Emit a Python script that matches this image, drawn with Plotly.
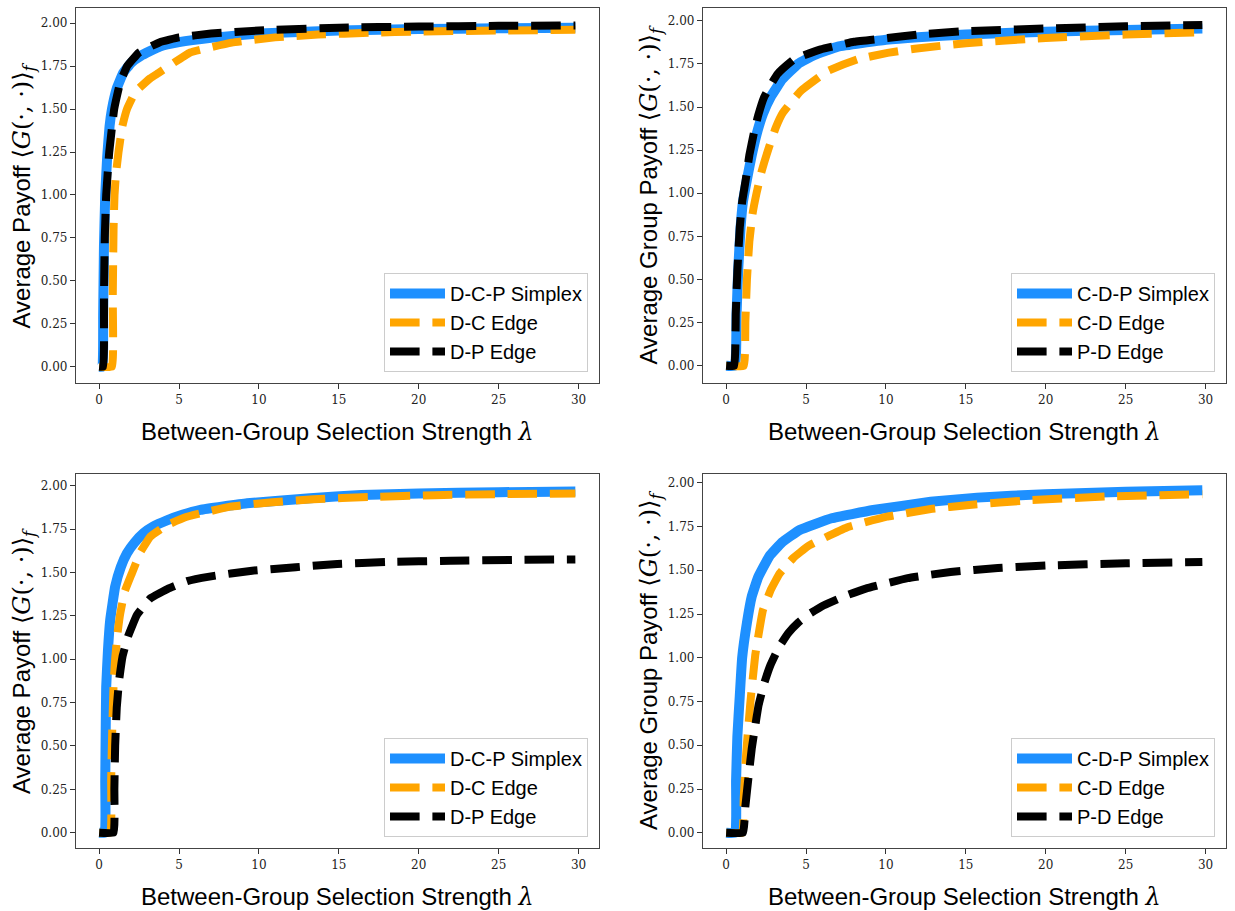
import plotly.graph_objects as go

# ---------------- data ----------------
# Panel 1 (top-left): D-C-P simplex, D-C edge, D-P edge
P1_SIMPLEX_X = [0, 0.2, 0.25, 0.3, 0.38, 0.5, 0.65, 0.8, 1.1, 1.5, 2.0, 2.6, 3.8, 5, 7, 10, 15, 20, 25, 29.8]
P1_SIMPLEX_Y = [0, 0, 0.3, 0.7, 1.0, 1.22, 1.4, 1.5, 1.62, 1.71, 1.77, 1.81, 1.865, 1.89, 1.915, 1.94, 1.958, 1.966, 1.971, 1.974]
P1_EDGE1_X = [0, 0.8, 0.85, 0.9, 0.96, 1.05, 1.21, 1.45, 1.74, 2.26, 3.2, 3.7, 5.7, 8.3, 11, 13.7, 17, 20, 25, 29.8]
P1_EDGE1_Y = [0, 0, 0.4, 0.8, 1.0, 1.12, 1.25, 1.4, 1.5, 1.6, 1.68, 1.71, 1.83, 1.887, 1.918, 1.934, 1.945, 1.952, 1.958, 1.962]
P1_EDGE2_X = [0, 0.25, 0.3, 0.35, 0.44, 0.63, 0.94, 1.3, 1.75, 2.5, 3.8, 5, 7, 10, 15, 20, 25, 29.8]
P1_EDGE2_Y = [0, 0, 0.4, 0.75, 1.0, 1.25, 1.5, 1.65, 1.75, 1.83, 1.89, 1.918, 1.94, 1.958, 1.974, 1.981, 1.985, 1.987]

# Panel 2 (top-right): C-D-P simplex, C-D edge, P-D edge
P2_SIMPLEX_X = [0, 0.55, 0.65, 0.75, 0.9, 1.05, 1.3, 1.6, 1.9, 2.3, 2.8, 3.5, 4.5, 5.5, 7, 10, 12, 15, 20, 25, 29.8]
P2_SIMPLEX_Y = [0, 0, 0.3, 0.55, 0.8, 0.95, 1.08, 1.22, 1.34, 1.46, 1.56, 1.66, 1.75, 1.8, 1.85, 1.89, 1.905, 1.92, 1.937, 1.947, 1.955]
P2_EDGE1_X = [0, 1.1, 1.2, 1.3, 1.45, 1.65, 1.9, 2.2, 2.67, 3.1, 3.55, 4.66, 6.34, 8.22, 10.1, 11.8, 15, 20, 25, 29.8]
P2_EDGE1_Y = [0, 0, 0.25, 0.5, 0.72, 0.88, 1.0, 1.12, 1.264, 1.38, 1.467, 1.592, 1.708, 1.776, 1.814, 1.838, 1.87, 1.9, 1.92, 1.934]
P2_EDGE2_X = [0, 0.5, 0.6, 0.7, 0.85, 1.0, 1.21, 1.45, 1.73, 2.0, 2.36, 2.8, 3.2, 4.24, 5.92, 8, 10.1, 12, 15, 20, 25, 29.8]
P2_EDGE2_Y = [0, 0, 0.3, 0.55, 0.8, 0.95, 1.07, 1.22, 1.347, 1.45, 1.554, 1.63, 1.69, 1.776, 1.834, 1.878, 1.9, 1.92, 1.94, 1.955, 1.968, 1.975]

# Panel 3 (bottom-left): D-C-P simplex, D-C edge, D-P edge
P3_SIMPLEX_X = [0, 0.35, 0.38, 0.41, 0.44, 0.55, 0.69, 1.0, 1.35, 1.74, 2.2, 2.78, 3.4, 4.24, 5.2, 6.33, 9.26, 13.2, 16.4, 20, 25, 29.8]
P3_SIMPLEX_Y = [0, 0, 0.3, 0.6, 0.84, 1.05, 1.226, 1.418, 1.53, 1.61, 1.67, 1.726, 1.765, 1.8, 1.832, 1.86, 1.898, 1.927, 1.946, 1.955, 1.962, 1.966]
P3_EDGE1_X = [0, 0.7, 0.75, 0.82, 0.9, 1.0, 1.15, 1.32, 1.6, 2.05, 2.6, 3.2, 4.2, 5.39, 8.2, 10.83, 13.4, 17, 21, 25, 29.8]
P3_EDGE1_Y = [0, 0, 0.3, 0.6, 0.85, 1.0, 1.15, 1.264, 1.39, 1.495, 1.62, 1.706, 1.77, 1.818, 1.879, 1.904, 1.922, 1.935, 1.945, 1.951, 1.955]
P3_EDGE2_X = [0, 0.9, 0.95, 1.0, 1.1, 1.25, 1.46, 1.8, 2.36, 3.2, 4.35, 5.5, 6.9, 9.57, 12.3, 14.9, 18, 22, 26, 29.8]
P3_EDGE2_Y = [0, 0, 0.25, 0.5, 0.72, 0.88, 1.014, 1.13, 1.255, 1.35, 1.408, 1.45, 1.476, 1.51, 1.53, 1.549, 1.56, 1.567, 1.572, 1.575]

# Panel 4 (bottom-right): C-D-P simplex, C-D edge, P-D edge
P4_SIMPLEX_X = [0, 0.57, 0.62, 0.7, 0.85, 1.0, 1.3, 1.6, 2.0, 2.7, 3.5, 4.6, 6.6, 9.2, 12.8, 15.7, 20, 25, 29.8]
P4_SIMPLEX_Y = [0, 0, 0.3, 0.55, 0.78, 1.0, 1.2, 1.35, 1.46, 1.58, 1.66, 1.73, 1.797, 1.844, 1.891, 1.915, 1.935, 1.948, 1.957]
P4_EDGE1_X = [0, 1.0, 1.1, 1.25, 1.51, 1.82, 2.3, 2.8, 3.35, 4.2, 5.13, 7.55, 10.06, 12.8, 15.2, 19, 24, 29.8]
P4_EDGE1_Y = [0, 0, 0.2, 0.45, 0.74, 1.015, 1.272, 1.39, 1.482, 1.57, 1.638, 1.745, 1.806, 1.85, 1.873, 1.9, 1.922, 1.935]
P4_EDGE2_X = [0, 1.05, 1.2, 1.4, 1.6, 1.8, 2.03, 2.4, 2.77, 3.3, 3.88, 4.5, 5.2, 6.12, 7.5, 8.74, 11.36, 14.04, 17, 20, 25, 29.8]
P4_EDGE2_Y = [0, 0, 0.15, 0.32, 0.48, 0.6, 0.73, 0.86, 0.958, 1.06, 1.14, 1.2, 1.25, 1.3, 1.355, 1.395, 1.455, 1.49, 1.513, 1.527, 1.54, 1.547]

LEFT_NAMES = ["D-C-P Simplex", "D-C Edge", "D-P Edge"]
RIGHT_NAMES = ["C-D-P Simplex", "C-D Edge", "P-D Edge"]
Y_TICKS = [0, 0.25, 0.5, 0.75, 1.0, 1.25, 1.5, 1.75, 2.0]
Y_TICK_TEXT = ["0.00", "0.25", "0.50", "0.75", "1.00", "1.25", "1.50", "1.75", "2.00"]
X_TICKS = [0, 5, 10, 15, 20, 25, 30]

XLABEL = "Between-Group Selection Strength <span style='font-family:DejaVu Serif'><i>λ</i></span>"
MATH = "<span style='font-family:DejaVu Serif'>⟨<i>G</i>(·, ·)⟩<sub><i>f</i></sub></span>"
YLABEL_LEFT = "Average Payoff " + MATH
YLABEL_RIGHT = "Average Group Payoff " + MATH

# ---------------- layout geometry ----------------
W, H = 1235, 911
COLS = [(76, 599), (703, 1226)]
ROWS = [(8, 383), (474, 848)]
X_RANGE = [-1.45, 31.28]
Y_RANGES = [[-0.095, 2.089], [-0.100, 2.074], [-0.088, 2.067], [-0.087, 2.05]]

BLUE = "#1E90FF"
ORANGE = "#FFA500"
BLACK = "#000000"
DASH = "29.6px,12.8px"
SMOOTH = 0.3

panels = [
    (P1_SIMPLEX_X, P1_SIMPLEX_Y, P1_EDGE1_X, P1_EDGE1_Y, P1_EDGE2_X, P1_EDGE2_Y, LEFT_NAMES),
    (P2_SIMPLEX_X, P2_SIMPLEX_Y, P2_EDGE1_X, P2_EDGE1_Y, P2_EDGE2_X, P2_EDGE2_Y, RIGHT_NAMES),
    (P3_SIMPLEX_X, P3_SIMPLEX_Y, P3_EDGE1_X, P3_EDGE1_Y, P3_EDGE2_X, P3_EDGE2_Y, LEFT_NAMES),
    (P4_SIMPLEX_X, P4_SIMPLEX_Y, P4_EDGE1_X, P4_EDGE1_Y, P4_EDGE2_X, P4_EDGE2_Y, RIGHT_NAMES),
]

fig = go.Figure()
layout = dict(
    width=W, height=H,
    margin=dict(l=0, r=0, t=0, b=0),
    paper_bgcolor="white", plot_bgcolor="white",
    font=dict(family="Liberation Sans", color="black"),
    annotations=[],
)

for i, (sx, sy, e1x, e1y, e2x, e2y, names) in enumerate(panels):
    r, c = divmod(i, 2)
    n = "" if i == 0 else str(i + 1)
    xa, ya = "x" + n, "y" + n
    lg = "legend" + n
    x0, x1 = COLS[c]
    y0, y1 = ROWS[r]
    fig.add_trace(go.Scatter(x=sx, y=sy, mode="lines", name=names[0], xaxis=xa, yaxis=ya, legend=lg,
                             line=dict(color=BLUE, width=10, shape="spline", smoothing=SMOOTH)))
    fig.add_trace(go.Scatter(x=e1x, y=e1y, mode="lines", name=names[1], xaxis=xa, yaxis=ya, legend=lg,
                             line=dict(color=ORANGE, width=8, dash=DASH, shape="spline", smoothing=SMOOTH)))
    fig.add_trace(go.Scatter(x=e2x, y=e2y, mode="lines", name=names[2], xaxis=xa, yaxis=ya, legend=lg,
                             line=dict(color=BLACK, width=8, dash=DASH, shape="spline", smoothing=SMOOTH)))
    axis_common = dict(showgrid=False, zeroline=False, showline=True, mirror=True,
                       linecolor="#444444", linewidth=1.3, ticks="outside", ticklen=5,
                       tickwidth=1, tickcolor="#333333",
                       tickfont=dict(family="DejaVu Serif", size=12, color="#222222"))
    layout["xaxis" + n] = dict(domain=[x0 / W, x1 / W], anchor=ya, range=X_RANGE,
                               tickvals=X_TICKS, **axis_common)
    layout["yaxis" + n] = dict(domain=[1 - y1 / H, 1 - y0 / H], anchor=xa, range=Y_RANGES[i],
                               tickvals=Y_TICKS, ticktext=Y_TICK_TEXT, **axis_common)
    layout[lg] = dict(x=(x1 - 11) / W, y=1 - (y1 - 11) / H, xanchor="right", yanchor="bottom",
                      bgcolor="rgba(255,255,255,0.85)", bordercolor="#cccccc", borderwidth=1,
                      itemwidth=55,
                      font=dict(family="Liberation Sans", size=20, color="black"))
    # axis titles
    layout["annotations"].append(dict(text=XLABEL, xref="paper", yref="paper",
                                      x=(x0 + x1) / 2 / W, y=1 - (y1 + 49) / H,
                                      xanchor="center", yanchor="middle", showarrow=False,
                                      font=dict(family="Liberation Sans", size=24, color="black")))
    layout["annotations"].append(dict(text=YLABEL_LEFT if c == 0 else YLABEL_RIGHT,
                                      xref="paper", yref="paper",
                                      x=(x0 - 53) / W, y=1 - (y0 + y1) / 2 / H,
                                      xanchor="center", yanchor="middle", showarrow=False,
                                      textangle=-90,
                                      font=dict(family="Liberation Sans", size=24, color="black")))

fig.update_layout(**layout)
fig.write_html(
    "out.html",
    config={"displayModeBar": False},
    post_script="document.body.style.margin='0px';document.body.style.padding='0px';"
                "document.documentElement.style.overflow='hidden';",
)
